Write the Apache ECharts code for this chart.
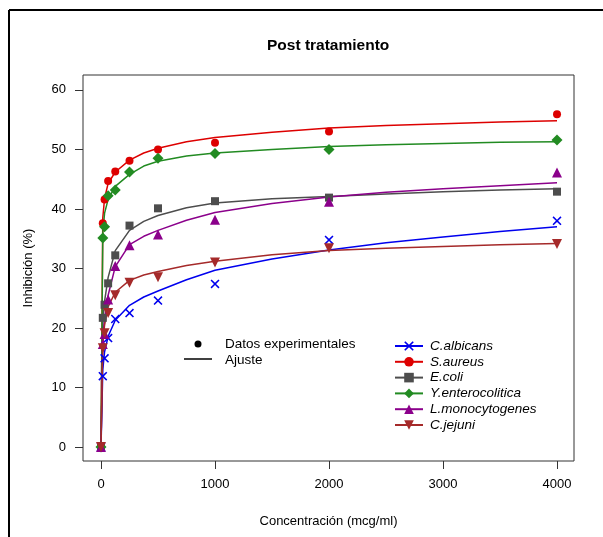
<!DOCTYPE html>
<html>
<head>
<meta charset="utf-8">
<script src="https://cdn.jsdelivr.net/npm/echarts@6/dist/echarts.min.js"></script>
<style>
html,body{margin:0;padding:0;background:#fff;}
#chart{width:603px;height:537px;}
</style>
</head>
<body>
<div id="chart"></div>
<script>
// ---- Data ----
const concentration = [0, 15.6, 31.25, 62.5, 125, 250, 500, 1000, 2000, 4000];
const cAlbicans       = [0, 11.9, 14.9, 18.3, 21.5, 22.5, 24.6, 27.4, 34.8, 38.0];
const sAureus         = [0, 37.6, 41.6, 44.7, 46.3, 48.1, 50.0, 51.1, 53.0, 55.9];
const eColi           = [0, 21.7, 23.9, 27.5, 32.2, 37.2, 40.1, 41.3, 41.9, 42.9];
const yEnterocolitica = [0, 35.1, 37.0, 42.2, 43.2, 46.2, 48.5, 49.3, 50.0, 51.6];
const lMonocytogenes  = [0, 17.3, 19.0, 24.8, 30.4, 33.9, 35.7, 38.2, 41.2, 46.1];
const cJejuni         = [0, 16.6, 19.1, 22.5, 25.5, 27.6, 28.5, 31.0, 33.4, 34.1];

// fitted curves
const fitConcentration = [0, 15.6, 31.25, 62.5, 125, 250, 375, 500, 750, 1000, 1500, 2000, 2500, 3000, 3500, 4000];
const fitAlbicans = [0, 13.0, 16.0, 18.6, 21.3, 23.8, 25.2, 26.2, 28.1, 29.7, 31.6, 33.1, 34.3, 35.3, 36.2, 37.0];
const fitAureus   = [0, 38.5, 41.8, 44.3, 46.2, 48.2, 49.4, 50.2, 51.3, 52.0, 52.9, 53.6, 54.0, 54.3, 54.6, 54.8];
const fitColi     = [0, 21.0, 24.5, 28.5, 33.0, 36.4, 37.9, 38.9, 40.2, 41.0, 41.7, 42.1, 42.5, 42.9, 43.2, 43.4];
const fitEntero   = [0, 36.0, 39.3, 41.6, 43.8, 45.8, 47.2, 48.0, 48.9, 49.4, 50.0, 50.5, 50.8, 51.0, 51.2, 51.3];
const fitMono     = [0, 18.5, 21.5, 25.5, 30.3, 34.0, 35.4, 36.4, 38.1, 39.4, 40.9, 42.0, 42.8, 43.4, 43.9, 44.4];
const fitJejuni   = [0, 17.5, 20.5, 23.6, 26.0, 28.0, 28.9, 29.5, 30.5, 31.2, 32.3, 33.0, 33.4, 33.7, 34.0, 34.2];

const speciesNames = ['C.albicans', 'S.aureus', 'E.coli', 'Y.enterocolitica', 'L.monocytogenes', 'C.jejuni'];
const xTicks = [0, 1000, 2000, 3000, 4000];
const yTicks = [0, 10, 20, 30, 40, 50, 60];
const titleText = 'Post tratamiento';
const xName = 'Concentración (mcg/ml)';
const yName = 'Inhibición (%)';
const legendExtra = ['Datos experimentales', 'Ajuste'];

// ---- Styling ----
const xPath = 'path://M0,1.2L1.2,0L5,3.8L8.8,0L10,1.2L6.2,5L10,8.8L8.8,10L5,6.2L1.2,10L0,8.8L3.8,5Z';
const styles = [
  {color: '#0000ee', symbol: xPath, size: 9, rotate: 0},
  {color: '#dd0000', symbol: 'circle', size: 8, rotate: 0},
  {color: '#4d4d4d', symbol: 'rect', size: 8, rotate: 0},
  {color: '#228b22', symbol: 'diamond', size: 11, rotate: 0},
  {color: '#8b008b', symbol: 'triangle', size: 10, rotate: 0},
  {color: '#a52a2a', symbol: 'triangle', size: 10, rotate: 180}
];
const points = [cAlbicans, sAureus, eColi, yEnterocolitica, lMonocytogenes, cJejuni];
const fits = [fitAlbicans, fitAureus, fitColi, fitEntero, fitMono, fitJejuni];

const font = 'Liberation Sans, Arial, sans-serif';
const series = [];
speciesNames.forEach((name, i) => {
  const s = styles[i];
  series.push({
    name: name, type: 'line', z: 2,
    data: fitConcentration.map((x, k) => [x, fits[i][k]]),
    smooth: false,
    showSymbol: false, symbol: s.symbol, symbolSize: s.size, symbolRotate: s.rotate,
    lineStyle: {color: s.color, width: 1.5, join: 'round'},
    itemStyle: {color: s.color},
    animation: false, silent: true
  });
});
speciesNames.forEach((name, i) => {
  const s = styles[i];
  series.push({
    name: name, type: 'scatter', z: 3,
    data: concentration.map((x, k) => [x, points[i][k]]),
    symbol: s.symbol, symbolSize: s.size, symbolRotate: s.rotate,
    itemStyle: {color: s.color, opacity: 1},
    animation: false, silent: true
  });
});

const chart = echarts.init(document.getElementById('chart'), null, {renderer: 'canvas'});
chart.setOption({
  backgroundColor: '#ffffff',
  animation: false,
  title: {
    text: titleText, left: 262, top: 33,
    textStyle: {fontFamily: font, fontSize: 15.5, fontWeight: 'bold', color: '#000'}
  },
  grid: {left: 83, top: 75, right: 29, bottom: 76, show: true, borderColor: '#333', borderWidth: 1, backgroundColor: 'transparent'},
  xAxis: {
    type: 'value', min: -158, max: 4149,
    name: xName, nameLocation: 'middle', nameGap: 54,
    nameTextStyle: {fontFamily: font, fontSize: 13, color: '#000'},
    axisLine: {show: false, onZero: false},
    axisTick: {show: true, length: 8, customValues: xTicks, lineStyle: {color: '#333', width: 1}},
    axisLabel: {customValues: xTicks, margin: 17, fontFamily: font, fontSize: 13, color: '#000',
      formatter: v => String(v)},
    splitLine: {show: false}
  },
  yAxis: {
    type: 'value', min: -2.35, max: 62.5,
    name: yName, nameLocation: 'middle', nameGap: 48,
    nameTextStyle: {fontFamily: font, fontSize: 13, color: '#000'},
    axisLine: {show: false, onZero: false},
    axisTick: {show: true, length: 8, customValues: yTicks, lineStyle: {color: '#333', width: 1}},
    axisLabel: {customValues: yTicks, margin: 17, fontFamily: font, fontSize: 13, color: '#000',
      formatter: v => String(v)},
    splitLine: {show: false}
  },
  legend: {
    data: speciesNames,
    orient: 'vertical', left: 389, top: 334,
    itemWidth: 28, itemHeight: 12, itemGap: 1.8,
    selectedMode: false,
    textStyle: {fontFamily: font, fontSize: 13.5, fontStyle: 'italic', color: '#000', lineHeight: 12, padding: [0, 0, 0, 2]}
  },
  graphic: [
    {type: 'line', shape: {x1: 9, y1: 10, x2: 603, y2: 10}, style: {stroke: '#000', lineWidth: 2}},
    {type: 'line', shape: {x1: 9, y1: 10, x2: 9, y2: 537}, style: {stroke: '#000', lineWidth: 2}},
    {type: 'circle', shape: {cx: 198, cy: 344, r: 3.5}, style: {fill: '#000'}},
    {type: 'text', x: 225, y: 344, style: {text: legendExtra[0], fill: '#000', font: '13.5px ' + font, textVerticalAlign: 'middle'}},
    {type: 'line', shape: {x1: 184, y1: 359, x2: 212, y2: 359}, style: {stroke: '#000', lineWidth: 1.5}},
    {type: 'text', x: 225, y: 360, style: {text: legendExtra[1], fill: '#000', font: '13.5px ' + font, textVerticalAlign: 'middle'}}
  ],
  series: series
});
</script>
</body>
</html>
